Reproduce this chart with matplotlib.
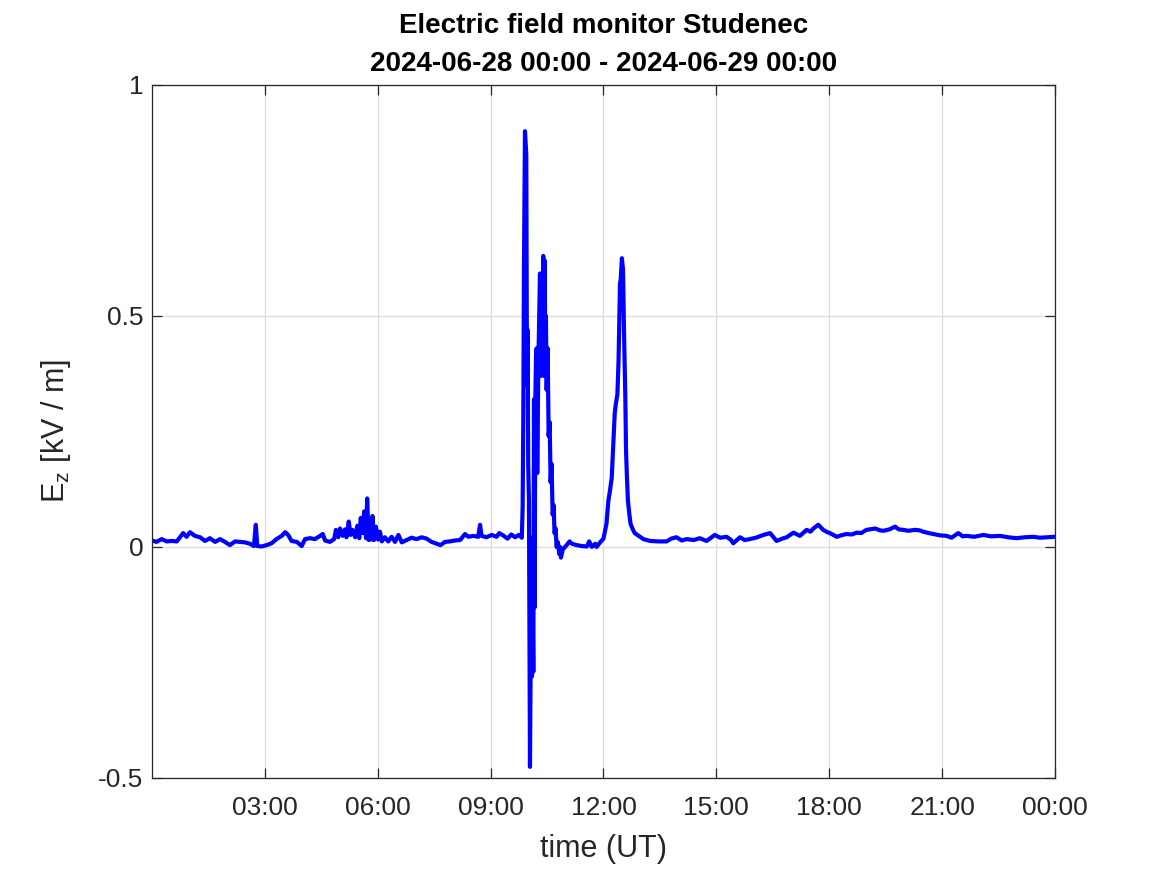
import matplotlib
matplotlib.use('Agg')
import matplotlib.pyplot as plt

# time in hours since 2024-06-28 00:00 UT, Ez in kV/m
hours = [
    0.00, 0.12, 0.26, 0.39, 0.52, 0.66, 0.83, 0.92, 1.01, 1.14, 1.28, 1.41,
    1.54, 1.68, 1.81, 1.94, 2.07, 2.21, 2.34, 2.47, 2.60, 2.71, 2.76, 2.80,
    2.91, 3.05, 3.18, 3.31, 3.45, 3.54, 3.62, 3.71, 3.85, 3.98, 4.07, 4.20,
    4.33, 4.47, 4.54, 4.60, 4.73, 4.84, 4.89, 4.95, 5.00, 5.07, 5.13, 5.17,
    5.23, 5.28, 5.33, 5.40, 5.46, 5.51, 5.55, 5.60, 5.64, 5.69, 5.72, 5.76,
    5.79, 5.83, 5.86, 5.90, 5.95, 6.01, 6.06, 6.11, 6.19, 6.28, 6.37, 6.46,
    6.55, 6.64, 6.77, 6.90, 7.03, 7.17, 7.30, 7.43, 7.57, 7.67, 7.79, 7.92,
    8.05, 8.19, 8.32, 8.41, 8.54, 8.67, 8.72, 8.76, 8.89, 9.03, 9.16, 9.23,
    9.35, 9.45, 9.55, 9.65, 9.75, 9.83,
    # first storm cell
    9.852, 9.870, 9.887, 9.914, 9.949, 9.967, 9.985, 10.000, 10.020, 10.047,
    10.065, 10.082, 10.100, 10.118, 10.136, 10.154, 10.170, 10.190, 10.207,
    10.224, 10.240, 10.268, 10.295, 10.313, 10.330, 10.348, 10.366, 10.384,
    10.400, 10.420, 10.437, 10.455, 10.470, 10.490, 10.517, 10.543, 10.570,
    10.596, 10.620, 10.650, 10.676, 10.700, 10.728, 10.755, 10.790, 10.826,
    10.850, 10.870, 10.920, 10.980, 11.100, 11.160, 11.290, 11.420, 11.560,
    11.620, 11.690, 11.780, 11.820, 11.910, 12.000,
    # second peak
    12.080, 12.130, 12.170, 12.220, 12.260, 12.300, 12.330, 12.370, 12.400,
    12.440, 12.460, 12.490, 12.520, 12.535, 12.550, 12.580, 12.600, 12.620,
    12.650, 12.690, 12.720, 12.770, 12.830, 12.920,
    # afternoon / night
    13.06, 13.24, 13.45, 13.68, 13.80, 13.94, 14.08, 14.21, 14.40, 14.56,
    14.74, 14.96, 15.10, 15.27, 15.38, 15.45, 15.63, 15.75, 15.89, 16.05,
    16.25, 16.43, 16.60, 16.75, 16.87, 17.05, 17.22, 17.40, 17.50, 17.58,
    17.71, 17.84, 17.95, 18.02, 18.20, 18.35, 18.46, 18.60, 18.73, 18.85,
    18.99, 19.22, 19.35, 19.44, 19.60, 19.75, 19.85, 19.97, 20.10, 20.28,
    20.40, 20.50, 20.65, 20.77, 20.95, 21.12, 21.25, 21.43, 21.55, 21.65,
    21.85, 22.10, 22.30, 22.54, 22.75, 22.98, 23.20, 23.42, 23.60, 23.80,
    24.00,
]

ez = [
    0.014, 0.011, 0.017, 0.012, 0.013, 0.012, 0.030, 0.022, 0.032, 0.024, 0.021, 0.013,
    0.019, 0.011, 0.017, 0.011, 0.004, 0.012, 0.011, 0.010, 0.007, 0.002, 0.048, 0.002,
    0.001, 0.004, 0.008, 0.017, 0.024, 0.032, 0.026, 0.013, 0.011, 0.002, 0.017, 0.019,
    0.017, 0.024, 0.028, 0.014, 0.011, 0.017, 0.037, 0.021, 0.040, 0.024, 0.038, 0.021,
    0.055, 0.026, 0.037, 0.021, 0.046, 0.019, 0.063, 0.030, 0.077, 0.019, 0.105, 0.015,
    0.058, 0.016, 0.067, 0.015, 0.044, 0.016, 0.033, 0.012, 0.021, 0.012, 0.022, 0.011,
    0.026, 0.010, 0.015, 0.020, 0.017, 0.021, 0.018, 0.011, 0.007, 0.004, 0.011, 0.012,
    0.014, 0.015, 0.028, 0.022, 0.024, 0.022, 0.048, 0.024, 0.021, 0.026, 0.022, 0.030,
    0.024, 0.018, 0.027, 0.021, 0.026, 0.020,
    0.085, 0.283, 0.601, 0.900, 0.850, 0.350, 0.470, 0.180, 0.100, -0.476,
    -0.250, 0.020, -0.280, -0.120, -0.270, 0.320, -0.131, 0.321, 0.410,
    0.430, 0.160, 0.390, 0.512, 0.592, 0.370, 0.380, 0.520, 0.400,
    0.630, 0.370, 0.620, 0.410, 0.500, 0.340, 0.430, 0.240, 0.270,
    0.140, 0.180, 0.070, 0.090, 0.030, 0.040, 0.000, 0.010, -0.015,
    0.000, -0.023, -0.005, 0.000, 0.012, 0.007, 0.004, 0.002, 0.001,
    0.012, 0.000, 0.007, 0.000, 0.010, 0.018,
    0.050, 0.100, 0.120, 0.150, 0.220, 0.290, 0.310, 0.330, 0.400,
    0.570, 0.580, 0.625, 0.600, 0.520, 0.450, 0.330, 0.210, 0.160,
    0.100, 0.070, 0.050, 0.040, 0.030, 0.025,
    0.017, 0.013, 0.012, 0.012, 0.018, 0.021, 0.014, 0.017, 0.015, 0.019,
    0.013, 0.026, 0.020, 0.022, 0.016, 0.008, 0.021, 0.015, 0.017, 0.020,
    0.026, 0.030, 0.013, 0.018, 0.021, 0.031, 0.024, 0.037, 0.033, 0.040,
    0.048, 0.037, 0.032, 0.030, 0.022, 0.026, 0.028, 0.027, 0.031, 0.030,
    0.037, 0.040, 0.036, 0.035, 0.038, 0.044, 0.038, 0.037, 0.035, 0.037,
    0.036, 0.033, 0.030, 0.028, 0.025, 0.024, 0.020, 0.030, 0.023, 0.024,
    0.022, 0.026, 0.023, 0.024, 0.021, 0.019, 0.021, 0.022, 0.020, 0.021,
    0.022,
]

x_ticks = [3, 6, 9, 12, 15, 18, 21, 24]
x_tick_labels = ['03:00', '06:00', '09:00', '12:00', '15:00', '18:00', '21:00', '00:00']
y_ticks = [-0.5, 0, 0.5, 1]
y_tick_labels = ['-0.5', '0', '0.5', '1']

plt.rcParams['font.family'] = ['Liberation Sans', 'DejaVu Sans']

fig = plt.figure(figsize=(11.67, 8.75), dpi=100)
ax = fig.add_axes([0.1302, 0.1109, 0.7738, 0.792])

ax.plot(hours, ez, color='#0000ff', linewidth=3.0)

ax.set_xlim(0, 24)
ax.set_ylim(-0.5, 1)
ax.set_xticks(x_ticks)
ax.set_xticklabels(x_tick_labels)
ax.set_yticks(y_ticks)
ax.set_yticklabels(y_tick_labels)

ax.grid(True, color='#dcdcdc', linewidth=0.9)
ax.set_axisbelow(True)
ax.tick_params(direction='in', length=7, width=0.9, top=True, right=True,
               labelsize=19, colors='#262626', pad=6)
ax.tick_params(axis='x', pad=13)
for s in ax.spines.values():
    s.set_color('#262626')
    s.set_linewidth(0.9)

ax.set_xlabel('time (UT)', fontsize=22, color='#262626', labelpad=10)
ax.set_ylabel(r'E$_\mathregular{z}$ [kV / m]', fontsize=22, color='#262626', labelpad=18)
ax.set_title('Electric field monitor Studenec\n2024-06-28 00:00 - 2024-06-29 00:00',
             fontsize=20, fontweight='bold', linespacing=1.6, pad=10)

fig.savefig('out.png', dpi=100)
